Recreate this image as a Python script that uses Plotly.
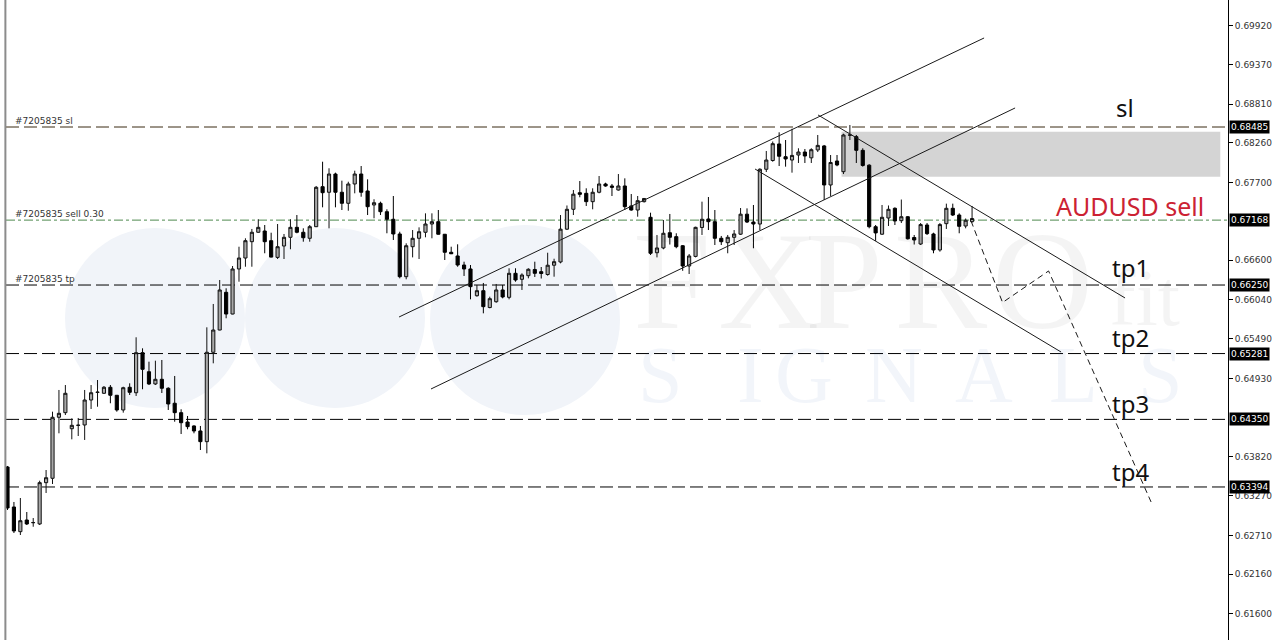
import plotly.graph_objects as go

# ---- candle data (AUDUSD, one candle per bar index) ----
opens = [0.63677, 0.63111, 0.62762, 0.62927, 0.62889, 0.62871, 0.63455, 0.63517, 0.64380, 0.64445,
         0.64218, 0.64264, 0.64271, 0.64624, 0.64731, 0.64719, 0.64804, 0.64691, 0.64483, 0.64804,
         0.64727, 0.65293, 0.65024, 0.64851, 0.64917, 0.64790, 0.64578, 0.64445, 0.64313, 0.64257,
         0.64186, 0.64035, 0.65299, 0.65614, 0.66147, 0.65840, 0.66477, 0.66632, 0.66863, 0.66996,
         0.67014, 0.66877, 0.66641, 0.66802, 0.66925, 0.67066, 0.66996, 0.66911, 0.67075, 0.67641,
         0.67562, 0.67820, 0.67562, 0.67406, 0.67679, 0.67820, 0.67580, 0.67382, 0.67406, 0.67287,
         0.67180, 0.66972, 0.66368, 0.66792, 0.66911, 0.66996, 0.67113, 0.67146, 0.66968, 0.66713,
         0.66661, 0.66533, 0.66477, 0.66099, 0.66170, 0.65932, 0.66014, 0.66180, 0.66076, 0.66416,
         0.66331, 0.66382, 0.66470, 0.66439, 0.66399, 0.66530, 0.66576, 0.67040, 0.67321, 0.67556,
         0.67547, 0.67429, 0.67562, 0.67679, 0.67651, 0.67594, 0.67651, 0.67368, 0.67311, 0.67429,
         0.67208, 0.66707, 0.66774, 0.66990, 0.66934, 0.66806, 0.66519, 0.66655, 0.67064, 0.67184,
         0.67146, 0.66911, 0.66849, 0.66925, 0.66969, 0.67252, 0.67141, 0.67113, 0.67887, 0.68011,
         0.68245, 0.68065, 0.68018, 0.68089, 0.68131, 0.68049, 0.68160, 0.68217, 0.67665, 0.68004,
         0.67853, 0.68370, 0.68348, 0.68155, 0.67945, 0.67075, 0.66969, 0.67198, 0.67335, 0.67160,
         0.67216, 0.66922, 0.66830, 0.67099, 0.66972, 0.66746, 0.67118, 0.67335, 0.67240, 0.67085,
         0.67146]
highs = [0.63691, 0.63182, 0.63238, 0.63040, 0.62955, 0.63483, 0.63634, 0.64459, 0.64766, 0.64836,
         0.64365, 0.64370, 0.64766, 0.64836, 0.64907, 0.64822, 0.64836, 0.64695, 0.64812, 0.64860,
         0.65511, 0.65355, 0.65166, 0.65180, 0.65190, 0.64804, 0.64964, 0.64493, 0.64398, 0.64266,
         0.64257, 0.65652, 0.65982, 0.66321, 0.66204, 0.66519, 0.66792, 0.66911, 0.67043, 0.67180,
         0.67099, 0.66990, 0.67113, 0.66972, 0.67180, 0.67240, 0.67052, 0.67099, 0.67651, 0.67994,
         0.67901, 0.67839, 0.67726, 0.67711, 0.67867, 0.67933, 0.67745, 0.67463, 0.67429, 0.67321,
         0.67509, 0.67004, 0.66840, 0.67028, 0.67066, 0.67264, 0.67264, 0.67311, 0.66972, 0.66792,
         0.66826, 0.66580, 0.66533, 0.66251, 0.66279, 0.66085, 0.66265, 0.66251, 0.66487, 0.66487,
         0.66416, 0.66487, 0.66580, 0.66505, 0.66707, 0.66622, 0.67240, 0.67375, 0.67594, 0.67721,
         0.67618, 0.67618, 0.67792, 0.67697, 0.67679, 0.67820, 0.67759, 0.67537, 0.67509, 0.67476,
         0.67273, 0.66958, 0.67170, 0.67255, 0.66982, 0.66816, 0.66689, 0.67075, 0.67429, 0.67495,
         0.67311, 0.66944, 0.66958, 0.67028, 0.67339, 0.67334, 0.67382, 0.67901, 0.68146, 0.68280,
         0.68410, 0.68301, 0.68460, 0.68184, 0.68174, 0.68184, 0.68372, 0.68231, 0.68089, 0.68089,
         0.68390, 0.68513, 0.68372, 0.68184, 0.67958, 0.67099, 0.67382, 0.67375, 0.67349, 0.67459,
         0.67226, 0.66958, 0.67127, 0.67127, 0.66990, 0.67127, 0.67401, 0.67401, 0.67264, 0.67191,
         0.67368]
lows = [0.63069, 0.62743, 0.62715, 0.62856, 0.62832, 0.62856, 0.63309, 0.63436, 0.64153, 0.64412,
        0.64068, 0.64115, 0.64059, 0.64497, 0.64529, 0.64709, 0.64578, 0.64459, 0.64445, 0.64695,
        0.64681, 0.64776, 0.64836, 0.64836, 0.64723, 0.64483, 0.64317, 0.64143, 0.64210, 0.64153,
        0.63917, 0.63870, 0.65143, 0.65610, 0.65780, 0.65836, 0.66297, 0.66509, 0.66509, 0.66990,
        0.66699, 0.66641, 0.66618, 0.66618, 0.66756, 0.66982, 0.66863, 0.66863, 0.67070, 0.67349,
        0.67052, 0.67349, 0.67311, 0.67301, 0.67547, 0.67499, 0.67240, 0.67194, 0.67240, 0.66982,
        0.66887, 0.66345, 0.66331, 0.66641, 0.66618, 0.66925, 0.66911, 0.66963, 0.66604, 0.66688,
        0.66509, 0.66378, 0.66048, 0.66085, 0.65850, 0.65921, 0.66000, 0.66062, 0.66048, 0.66297,
        0.66180, 0.66345, 0.66364, 0.66342, 0.66382, 0.66368, 0.66557, 0.67028, 0.67240, 0.67491,
        0.67368, 0.67321, 0.67547, 0.67641, 0.67509, 0.67585, 0.67311, 0.67301, 0.67216, 0.67417,
        0.66675, 0.66641, 0.66756, 0.66823, 0.66770, 0.66451, 0.66406, 0.66641, 0.66958, 0.67028,
        0.66816, 0.66816, 0.66699, 0.66816, 0.66958, 0.67127, 0.66770, 0.67028, 0.67848, 0.67994,
        0.67933, 0.67924, 0.67839, 0.67976, 0.67976, 0.67976, 0.68131, 0.67453, 0.67509, 0.67930,
        0.67820, 0.68301, 0.67976, 0.67924, 0.67052, 0.66874, 0.66958, 0.67085, 0.67099, 0.67127,
        0.66894, 0.66823, 0.66816, 0.66958, 0.66699, 0.66722, 0.67043, 0.67226, 0.66982, 0.67052,
        0.67132]
closes = [0.63097, 0.62772, 0.62917, 0.62871, 0.62891, 0.63455, 0.63525, 0.64380, 0.64436, 0.64719,
          0.64266, 0.64268, 0.64624, 0.64727, 0.64735, 0.64804, 0.64691, 0.64483, 0.64798, 0.64733,
          0.65293, 0.65058, 0.64851, 0.64917, 0.64790, 0.64568, 0.64445, 0.64303, 0.64247, 0.64186,
          0.64035, 0.65299, 0.65614, 0.66180, 0.65840, 0.66477, 0.66632, 0.66877, 0.66996, 0.67066,
          0.66863, 0.66645, 0.66792, 0.66925, 0.67066, 0.66996, 0.66919, 0.67075, 0.67632, 0.67556,
          0.67820, 0.67562, 0.67406, 0.67679, 0.67820, 0.67562, 0.67358, 0.67414, 0.67287, 0.67180,
          0.66972, 0.66368, 0.66806, 0.66911, 0.67004, 0.67113, 0.67146, 0.66968, 0.66713, 0.66692,
          0.66533, 0.66477, 0.66227, 0.66170, 0.65944, 0.66057, 0.66180, 0.66081, 0.66416, 0.66321,
          0.66392, 0.66473, 0.66416, 0.66413, 0.66530, 0.66580, 0.67040, 0.67321, 0.67535, 0.67533,
          0.67429, 0.67562, 0.67679, 0.67651, 0.67632, 0.67651, 0.67358, 0.67311, 0.67443, 0.67474,
          0.66699, 0.66774, 0.66982, 0.66925, 0.66792, 0.66519, 0.66661, 0.67066, 0.67180, 0.67146,
          0.66911, 0.66863, 0.66925, 0.66972, 0.67252, 0.67141, 0.67113, 0.67887, 0.68018, 0.68249,
          0.68071, 0.68033, 0.68083, 0.68131, 0.68075, 0.68164, 0.68225, 0.67665, 0.67983, 0.67948,
          0.68372, 0.68372, 0.68155, 0.67941, 0.67075, 0.66987, 0.67208, 0.67321, 0.67156, 0.67216,
          0.66904, 0.66887, 0.67105, 0.66977, 0.66746, 0.67105, 0.67335, 0.67240, 0.67080, 0.67166,
          0.67191]
bars = list(range(len(opens)))

# ---- price axis ----
tick_prices = [0.69920, 0.69370, 0.68810, 0.68260, 0.67700, 0.66600, 0.66040,
               0.65490, 0.64930, 0.63820, 0.63270, 0.62710, 0.62160, 0.61600]
price_range = [0.61230, 0.70281]
bar_range = [-0.233, 189.8]

# ---- trade / target levels ----
sl_level = 0.68485
entry_level = 0.67168
tp_levels = [0.66250, 0.65281, 0.64350, 0.63394]
order_labels = ["#7205835 sl", "#7205835 sell 0.30", "#7205835 tp"]
order_prices = [sl_level, entry_level, tp_levels[0]]

# ---- big text labels ----
big_labels = ["sl", "tp1", "tp2", "tp3", "tp4"]
big_label_bars = [173.8, 174.7, 174.7, 174.7, 174.7]
big_label_prices = [0.68754, 0.66491, 0.65515, 0.64568, 0.63620]
title_text = "AUDUSD sell"
title_bar = 174.6
title_price = 0.67368

# ---- supply zone ----
zone_bars = [129.7, 188.6]
zone_prices = [0.67782, 0.68419]

# ---- trend lines (bar index, price) ----
up_upper_bars = [60.89, 151.87]
up_upper_prices = [0.65798, 0.69744]
up_lower_bars = [65.86, 156.69]
up_lower_prices = [0.64780, 0.68754]
dn_upper_bars = [126.05, 173.79]
dn_upper_prices = [0.68655, 0.66067]
dn_lower_bars = [116.25, 163.84]
dn_lower_prices = [0.67891, 0.65303]
path_bars = [149.84, 154.74, 161.90, 177.84]
path_prices = [0.67156, 0.66003, 0.66449, 0.63182]

fig = go.Figure()

fig.add_trace(go.Candlestick(
    x=bars, open=opens, high=highs, low=lows, close=closes,
    increasing=dict(fillcolor="#a8a8a8", line=dict(color="#111111", width=1)),
    decreasing=dict(fillcolor="#000000", line=dict(color="#000000", width=1)),
    whiskerwidth=0, hoverinfo="skip", showlegend=False))

for bx, py, dash in [(up_upper_bars, up_upper_prices, "solid"),
                     (up_lower_bars, up_lower_prices, "solid"),
                     (dn_upper_bars, dn_upper_prices, "solid"),
                     (dn_lower_bars, dn_lower_prices, "solid"),
                     (path_bars, path_prices, "6px,4px")]:
    fig.add_trace(go.Scatter(x=bx, y=py, mode="lines",
                             line=dict(color="#1a1a1a", width=1, dash=dash),
                             hoverinfo="skip", showlegend=False))

PW = 1222.0  # plot width in px
PH = 640.0

def px_x(p):
    return (p - 6) / PW

def px_y(p):
    return 1 - p / PH

shapes = []
# watermark circles
for cx, cy, r in [(155, 318, 90), (335, 318, 90), (525, 320, 95)]:
    shapes.append(dict(type="circle", xref="paper", yref="paper",
                       x0=px_x(cx - r), x1=px_x(cx + r), y0=px_y(cy + r), y1=px_y(cy - r),
                       fillcolor="#f1f4f9", line=dict(width=0), layer="below"))
# zone
shapes.append(dict(type="rect", xref="x", yref="y", x0=zone_bars[0], x1=zone_bars[1],
                   y0=zone_prices[0], y1=zone_prices[1], fillcolor="#d4d4d4",
                   line=dict(width=0), layer="below"))
# level lines
shapes.append(dict(type="line", xref="paper", yref="y", x0=0, x1=1, y0=sl_level, y1=sl_level,
                   line=dict(color="#3a2a12", width=1, dash="13px,5px"), layer="below"))
shapes.append(dict(type="line", xref="paper", yref="y", x0=0, x1=1, y0=entry_level, y1=entry_level,
                   line=dict(color="#4f8a4f", width=1, dash="dashdot"), layer="below"))
for lv in tp_levels:
    shapes.append(dict(type="line", xref="paper", yref="y", x0=0, x1=1, y0=lv, y1=lv,
                       line=dict(color="#000000", width=1, dash="13px,5px"), layer="below"))
# left border
shapes.append(dict(type="line", xref="paper", yref="paper", x0=-0.0005, x1=-0.0005, y0=0, y1=1,
                   line=dict(color="#8c8c8c", width=2)))

annotations = []
# watermark text
for ch, cx in zip(["F", "X", "P", "R", "O"], [672, 768, 885, 990, 1095]):
    annotations.append(dict(xref="paper", yref="paper", x=px_x(cx), y=px_y(280), text=ch,
                            showarrow=False, font=dict(family="Liberation Serif", size=140,
                                                       color="rgba(0,0,0,0.045)")))
annotations.append(dict(xref="paper", yref="paper", x=px_x(1182), y=px_y(298), text="fit",
                        showarrow=False, font=dict(family="Liberation Serif", size=80,
                                                   color="rgba(0,0,0,0.045)")))
for ch, cx in zip("SIGNALS", [660, 750, 835, 925, 1015, 1100, 1185]):
    annotations.append(dict(xref="paper", yref="paper", x=px_x(cx), y=px_y(375), text=ch,
                            showarrow=False, font=dict(family="Liberation Serif", size=80,
                                                       color="rgba(40,90,170,0.06)")))
# order labels on the left
for t, p in zip(order_labels, order_prices):
    annotations.append(dict(xref="paper", yref="y", x=px_x(13), y=p, text=t, showarrow=False,
                            xanchor="left", yanchor="bottom", yshift=-1,
                            font=dict(family="DejaVu Sans", size=9, color="#333333")))
# highlighted price boxes on the axis
for p in [sl_level, entry_level] + tp_levels:
    annotations.append(dict(xref="paper", yref="y", x=1, y=p, text=f"{p:.5f}", showarrow=False,
                            xanchor="left", yanchor="middle", xshift=1,
                            bgcolor="#000000", borderpad=1,
                            font=dict(family="DejaVu Sans", size=9, color="#ffffff")))
# big labels
for t, b, p in zip(big_labels, big_label_bars, big_label_prices):
    annotations.append(dict(xref="x", yref="y", x=b, y=p, text=t, showarrow=False,
                            font=dict(family="Noto Sans", size=24, color="#111111")))
annotations.append(dict(xref="x", yref="y", x=title_bar, y=title_price, text=title_text,
                        showarrow=False, font=dict(family="Noto Sans", size=25, color="#cc2233")))

fig.update_layout(
    width=1280, height=640,
    margin=dict(l=6, r=52, t=0, b=0),
    paper_bgcolor="white", plot_bgcolor="white",
    showlegend=False,
    shapes=shapes, annotations=annotations,
    xaxis=dict(range=bar_range, visible=False, rangeslider=dict(visible=False),
               showgrid=False, zeroline=False),
    yaxis=dict(range=price_range, side="right", tickvals=tick_prices,
               ticktext=[f"{v:.5f}" for v in tick_prices],
               ticks="outside", ticklen=4, tickcolor="#000000",
               showline=True, linecolor="#000000", linewidth=1,
               showgrid=False, zeroline=False,
               tickfont=dict(family="DejaVu Sans", size=9, color="#333333")),
)

fig.write_html("out.html", config={"displayModeBar": False},
               post_script="document.body.style.margin='0px';document.body.style.overflow='hidden';")
